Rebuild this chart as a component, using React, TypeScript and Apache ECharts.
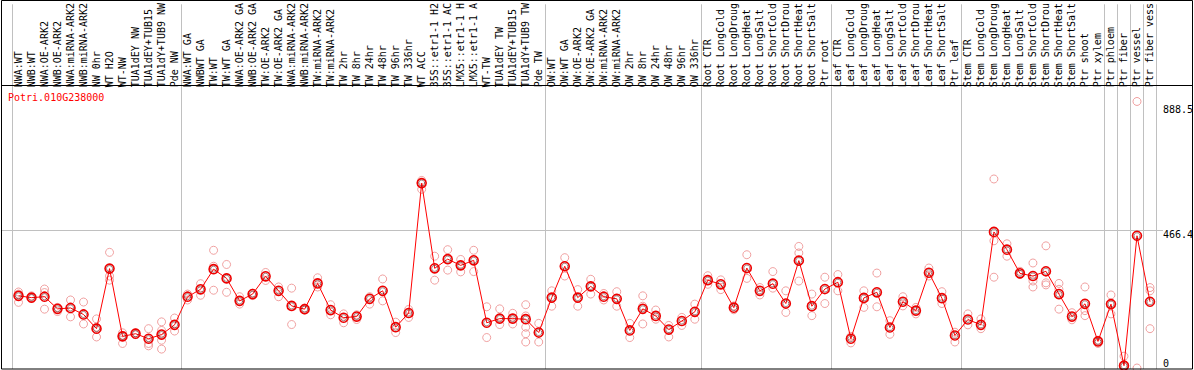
import { useEffect, useRef } from "react";
import * as echarts from "echarts";

const geneId = "Potri.010G238000";

const categories = [
  "NWA:WT", "NWB:WT", "NWA:OE-ARK2", "NWB:OE-ARK2", "NWA:miRNA-ARK2", "NWB:miRNA-ARK2", "NW 0hr", "WT H2O", "WT-NW", "TUA1dEY NW", "TUA1dEY+TUB15", "TUA1dY+TUB9 NW", "Pde NW",
  "NWA:WT GA", "NWBWT GA", "TW:WT", "TW:WT GA", "NWA:OE-ARK2 GA", "NWB:OE-ARK2 GA", "TW:OE-ARK2", "TW:OE-ARK2 GA", "NWA:miRNA-ARK2", "NWB:miRNA-ARK2", "TW:miRNA-ARK2", "TW:miRNA-ARK2",
  "TW 2hr", "TW 8hr", "TW 24hr", "TW 48hr", "TW 96hr", "TW 336hr", "WT ACC", "35S::etr1-1 H2", "35S::etr1-1 AC", "LMX5::etr1-1 H", "LMX5::etr1-1 A", "WT-TW", "TUA1dEY TW", "TUA1dEY+TUB15", "TUA1dY+TUB9 TW", "Pde TW",
  "OW:WT", "OW:WT GA", "OW:OE-ARK2", "OW:OE-ARK2 GA", "OW:miRNA-ARK2", "OW:miRNA-ARK2", "OW 2hr", "OW 8hr", "OW 24hr", "OW 48hr", "OW 96hr", "OW 336hr",
  "Root CTR", "Root LongCold", "Root LongDroug", "Root LongHeat", "Root LongSalt", "Root ShortCold", "Root ShortDrou", "Root ShortHeat", "Root ShortSalt", "Ptr root",
  "Leaf CTR", "Leaf LongCold", "Leaf LongDroug", "Leaf LongHeat", "Leaf LongSalt", "Leaf ShortCold", "Leaf ShortDrou", "Leaf ShortHeat", "Leaf ShortSalt", "Ptr leaf",
  "Stem CTR", "Stem LongCold", "Stem LongDroug", "Stem LongHeat", "Stem LongSalt", "Stem ShortCold", "Stem ShortDrou", "Stem ShortHeat", "Stem ShortSalt", "Ptr shoot", "Ptr xylem",
  "Ptr phloem", "Ptr fiber", "Ptr vessel", "Ptr fiber vess",
];

// index of the first category of each block (a separator is drawn before it)
const groupStarts = [0, 13, 41, 53, 63, 73, 84, 85, 86, 87];

const means = [
  244, 238, 241, 200, 203, 181, 133, 336, 107, 116, 99, 113, 146,
  241, 266, 334, 303, 227, 250, 310, 261, 210, 199, 286, 196,
  170, 174, 234, 261, 138, 186, 625, 337, 368, 347, 364, 153, 167, 167, 165, 120,
  238, 344, 238, 276, 241, 234, 127, 200, 176, 130, 159, 190,
  297, 283, 204, 338, 261, 285, 218, 363, 209, 267,
  290, 99, 237, 256, 137, 224, 194, 322, 236, 110,
  164, 146, 460, 400, 320, 311, 327, 250, 174, 217, 90,
  216, 8, 447, 224,
];

const replicates = [
  [257, 250, 222], [244, 236], [267, 255, 199], [205, 191], [230, 173], [223, 149], [166, 138, 105], [391, 311, 297], [119, 110, 83], [119, 113], [133, 83, 75], [156, 127, 94, 64], [169, 125],
  [250, 230], [285, 246], [398, 344, 263], [350, 256], [241, 216], [253, 245], [323, 296], [274, 241], [270, 147], [203, 196], [305, 274], [214, 180],
  [183, 153], [180, 164], [241, 216], [301, 227], [155, 120], [198, 171], [634, 604], [378, 297], [400, 331], [367, 325], [398, 326], [207, 103], [200, 147], [185, 149], [214, 176, 138, 116, 88], [151, 88],
  [261, 209], [373, 311], [265, 209], [300, 250], [252, 230], [258, 209], [151, 103], [244, 209, 149], [196, 165], [144, 105], [171, 144], [216, 165],
  [312, 283], [298, 265], [210, 197], [383, 303], [272, 247], [326, 270], [261, 188], [411, 389, 294], [250, 177], [307, 218],
  [316, 261], [107, 85], [261, 205], [321, 207], [160, 114], [241, 210], [205, 183], [338, 311], [258, 218], [121, 88],
  [183, 146], [166, 133], [639, 430, 307], [420, 378], [327, 316], [355, 294, 274], [413, 288, 281], [286, 266, 199], [187, 163], [274, 194, 177], [94, 83],
  [247, 183], [40, 4], [901, 0], [272, 261, 133],
];

const axisMarks = [888.5, 466.4, 0];
const midMark = 466.4;

const FONT = "'DejaVu Sans Mono', monospace";

export default function App() {
  const ref = useRef<HTMLDivElement>(null);

  useEffect(() => {
    const chart = echarts.init(ref.current!, null, { renderer: "svg" });
    const repData: number[][] = [];
    replicates.forEach((arr, i) => arr.forEach((v) => repData.push([i, v])));
    const meanData = means.map((v, i) => [i, v]);

    chart.setOption({
      animation: false,
      title: {
        text: geneId,
        left: 8,
        top: 92,
        padding: 0,
        textStyle: { color: "#ff0000", fontFamily: FONT, fontSize: 10, fontWeight: "normal" },
      },
      grid: { left: 12, right: 37.5, top: 0, bottom: 1, containLabel: false },
      xAxis: {
        type: "category",
        data: categories,
        position: "top",
        offset: -85,
        boundaryGap: true,
        axisLine: { show: false },
        axisTick: { show: false },
        axisLabel: {
          interval: 0,
          rotate: 90,
          margin: 2,
          fontFamily: FONT,
          fontSize: 10,
          color: "#000",
          padding: [5, 0, 0, 0],
        },
        splitLine: {
          show: true,
          interval: (i: number) => groupStarts.includes(i),
          lineStyle: { color: "#c0c0c0", width: 1 },
        },
      },
      yAxis: { type: "value", min: -3.3, max: 1229.5, show: false, splitLine: { show: false } },
      series: [
        {
          type: "scatter",
          data: repData,
          symbol: "circle",
          symbolSize: 8,
          itemStyle: { color: "rgba(0,0,0,0)", borderColor: "#ec8a8a", borderWidth: 1 },
          z: 2,
        },
        {
          type: "line",
          data: means,
          symbol: "circle",
          symbolSize: 9,
          lineStyle: { color: "#ff0000", width: 1 },
          itemStyle: { color: "rgba(255,255,255,0)", borderColor: "#ee0000", borderWidth: 1.6 },
          z: 3,
        },
        {
          type: "scatter",
          data: meanData,
          symbol: "circle",
          symbolSize: 6,
          itemStyle: { color: "rgba(255,255,255,0)", borderColor: "rgba(60,0,0,0.6)", borderWidth: 1 },
          z: 4,
        },
      ],
    });

    const labelCenters = axisMarks.map((v) => {
      const py = chart.convertToPixel({ yAxisIndex: 0 }, v) as number;
      return v === 0 ? Math.min(py, 363) : py + 4.4;
    });
    const gy = chart.convertToPixel({ yAxisIndex: 0 }, midMark) as number;
    const gyr = Math.round(gy) + 0.5;
    chart.setOption({
      graphic: [
        {
          type: "line",
          z: 0,
          shape: { x1: 1, y1: gyr, x2: 1163, y2: gyr },
          style: { stroke: "#c0c0c0", lineWidth: 1 },
        },
        ...axisMarks.map((v, k) => ({
          type: "text",
          z: 5,
          x: 1163,
          y: labelCenters[k],
          style: {
            text: String(v),
            fill: "#000",
            font: "10px 'DejaVu Sans Mono', monospace",
            textAlign: "left",
            textVerticalAlign: "middle",
          },
        })),
        {
          type: "rect",
          z: 10,
          shape: { x: 1.5, y: 0.5, width: 1191, height: 368.5 },
          style: { fill: "none", stroke: "#000", lineWidth: 1 },
        },
        {
          type: "line",
          z: 10,
          shape: { x1: 1, y1: 85.5, x2: 1193, y2: 85.5 },
          style: { stroke: "#000", lineWidth: 1 },
        },
      ],
    });

    return () => chart.dispose();
  }, []);

  return (
    <div
      ref={ref}
      style={{ position: "absolute", left: 0, top: 0, width: 1194, height: 370, background: "#fff" }}
    />
  );
}
